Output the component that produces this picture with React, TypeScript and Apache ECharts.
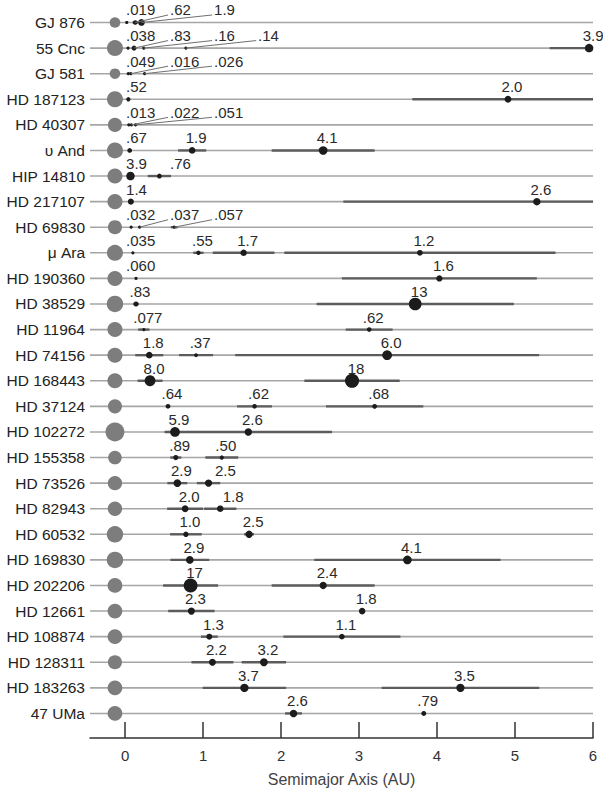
import React, { useEffect, useRef } from "react";
import * as echarts from "echarts";

// ---- data ----
const starNames = [
  "GJ 876", "55 Cnc", "GJ 581", "HD 187123", "HD 40307", "υ And", "HIP 14810",
  "HD 217107", "HD 69830", "μ Ara", "HD 190360", "HD 38529", "HD 11964",
  "HD 74156", "HD 168443", "HD 37124", "HD 102272", "HD 155358", "HD 73526",
  "HD 82943", "HD 60532", "HD 169830", "HD 202206", "HD 12661", "HD 108874",
  "HD 128311", "HD 183263", "47 UMa",
];
// relative stellar size (drawn radius ∝ value)
const starSize = [
  0.66, 1.0, 0.66, 1.0, 0.88, 1.0, 0.94, 0.94, 0.88, 1.0, 0.94, 1.03, 0.94,
  0.94, 0.94, 0.88, 1.18, 0.85, 0.9, 0.9, 1.03, 1.03, 0.92, 0.92, 0.92, 0.88,
  0.92, 0.92,
];

// planets: host row, semimajor axis (AU), mass label (Jupiter masses), eccentricity
const planetStar = [
  0, 0, 0,
  1, 1, 1, 1, 1,
  2, 2, 2,
  3, 3,
  4, 4, 4,
  5, 5, 5,
  6, 6,
  7, 7,
  8, 8, 8,
  9, 9, 9, 9,
  10, 10,
  11, 11,
  12, 12,
  13, 13, 13,
  14, 14,
  15, 15, 15,
  16, 16,
  17, 17,
  18, 18,
  19, 19,
  20, 20,
  21, 21,
  22, 22,
  23, 23,
  24, 24,
  25, 25,
  26, 26,
  27, 27,
];
const planetAxis = [
  0.021, 0.13, 0.21,
  0.038, 0.115, 0.24, 0.78, 5.95,
  0.041, 0.073, 0.25,
  0.042, 4.91,
  0.047, 0.081, 0.134,
  0.059, 0.86, 2.54,
  0.069, 0.44,
  0.074, 5.28,
  0.078, 0.186, 0.63,
  0.1, 0.94, 1.52, 3.78,
  0.14, 4.03,
  0.14, 3.72,
  0.24, 3.13,
  0.31, 0.91, 3.36,
  0.32, 2.91,
  0.55, 1.66, 3.2,
  0.64, 1.58,
  0.65, 1.24,
  0.67, 1.07,
  0.77, 1.22,
  0.78, 1.59,
  0.83, 3.62,
  0.84, 2.54,
  0.85, 3.04,
  1.08, 2.78,
  1.12, 1.78,
  1.53, 4.3,
  2.16, 3.83,
];
const planetMass = [
  ".019", ".62", "1.9",
  ".038", ".83", ".16", ".14", "3.9",
  ".049", ".016", ".026",
  ".52", "2.0",
  ".013", ".022", ".051",
  ".67", "1.9", "4.1",
  "3.9", ".76",
  "1.4", "2.6",
  ".032", ".037", ".057",
  ".035", ".55", "1.7", "1.2",
  ".060", "1.6",
  ".83", "13",
  ".077", ".62",
  "1.8", ".37", "6.0",
  "8.0", "18",
  ".64", ".62", ".68",
  "5.9", "2.6",
  ".89", ".50",
  "2.9", "2.5",
  "2.0", "1.8",
  "1.0", "2.5",
  "2.9", "4.1",
  "17", "2.4",
  "2.3", "1.8",
  "1.3", "1.1",
  "2.2", "3.2",
  "3.7", "3.5",
  "2.6", ".79",
];
const planetEcc = [
  0, 0.26, 0.03,
  0, 0.01, 0.05, 0, 0.085,
  0, 0, 0,
  0, 0.25,
  0, 0, 0,
  0.02, 0.21, 0.26,
  0.14, 0.34,
  0.13, 0.47,
  0, 0, 0.07,
  0, 0.07, 0.26, 0.46,
  0, 0.31,
  0.25, 0.34,
  0.3, 0.096,
  0.58, 0.24, 0.58,
  0.5, 0.21,
  0.05, 0.135, 0.195,
  0.05, 0.68,
  0.11, 0.17,
  0.19, 0.14,
  0.3, 0.17,
  0.26, 0.04,
  0.3, 0.33,
  0.42, 0.26,
  0.35, 0.03,
  0.1, 0.27,
  0.24, 0.16,
  0.35, 0.235,
  0.05, 0,
];
const xTicks = [0, 1, 2, 3, 4, 5, 6];

const X_MIN = -0.45;
const X_MAX = 6;
const STAR_X = -0.13;
const FONT = "'Liberation Sans', Arial, Helvetica, sans-serif";
const LABEL_SIZE = 15;

export default function App() {
  const ref = useRef<HTMLDivElement>(null);

  useEffect(() => {
    if (!ref.current) return;
    const chart = echarts.init(ref.current, undefined, { renderer: "svg" });

    const canvas = document.createElement("canvas");
    const ctx = canvas.getContext("2d")!;
    ctx.font = `${LABEL_SIZE}px ${FONT}`;
    const measure = (t: string) => ctx.measureText(t).width;

    const rowPlanets: number[][] = starNames.map(() => []);
    planetStar.forEach((s, i) => rowPlanets[s].push(i));
    rowPlanets.forEach((arr) => arr.sort((a, b) => planetAxis[a] - planetAxis[b]));

    const renderItem = (params: any, api: any) => {
      const row = api.value(1);
      const y = api.coord([0, row])[1];
      const xl = api.coord([X_MIN, row])[0];
      const xr = api.coord([X_MAX, row])[0];
      const x0 = api.coord([0, row])[0];
      const children: any[] = [];

      // base line
      children.push({
        type: "line",
        shape: { x1: xl, y1: y, x2: xr, y2: y },
        style: { stroke: "#a6a6a6", lineWidth: 1.6 },
      });

      const ids = rowPlanets[row];
      // orbit ranges (periastron to apastron)
      ids.forEach((i) => {
        const a = planetAxis[i];
        const e = planetEcc[i];
        if (e < 0.04) return;
        const p = Math.max(0, a * (1 - e));
        const q = Math.min(X_MAX, a * (1 + e));
        const px = api.coord([p, row])[0];
        const qx = api.coord([q, row])[0];
        children.push({
          type: "line",
          shape: { x1: px, y1: y, x2: qx, y2: y },
          style: { stroke: "#5c5c5c", lineWidth: 2.4 },
        });
      });

      // star
      children.push({
        type: "circle",
        shape: { cx: api.coord([STAR_X, row])[0], cy: y, r: starSize[row] * 8 },
        style: { fill: "#7d7d7d" },
      });

      // planets
      ids.forEach((i) => {
        const m = parseFloat(planetMass[i]);
        const r = Math.max(1.6, 2.7 * Math.cbrt(m));
        children.push({
          type: "circle",
          shape: { cx: api.coord([planetAxis[i], row])[0], cy: y, r },
          style: { fill: "#1c1c1c" },
        });
      });

      // labels
      let prevLeft = -Infinity;
      const ly = y - 12.5;
      ids.forEach((i) => {
        const px = api.coord([planetAxis[i], row])[0];
        const t = planetMass[i];
        const w = measure(t);
        const desired = Math.max(px + 4 - w / 2, x0 + 1);
        let left = desired;
        if (left < prevLeft + 44) left = prevLeft + 44;
        prevLeft = left;
        if (left - desired > 28) {
          children.push({
            type: "line",
            shape: { x1: left - 2, y1: ly + 5, x2: px, y2: y },
            style: { stroke: "#707070", lineWidth: 1 },
          });
        }
        children.push({
          type: "text",
          x: left,
          y: ly,
          style: {
            text: t,
            fill: "#2a2a2a",
            fontSize: LABEL_SIZE,
            fontFamily: FONT,
            align: "left",
            verticalAlign: "middle",
          },
        });
      });

      // star name
      children.push({
        type: "text",
        x: xl - 5,
        y: y,
        style: {
          text: starNames[row],
          fill: "#222",
          fontSize: 15.5,
          fontFamily: FONT,
          align: "right",
          verticalAlign: "middle",
        },
      });

      return { type: "group", children };
    };

    chart.setOption({
      animation: false,
      grid: { left: 90, right: 10, top: 9.7, bottom: 54, outerBoundsMode: "none" },
      xAxis: {
        type: "value",
        min: X_MIN,
        max: X_MAX,
        splitLine: { show: false },
        axisLine: { show: true, onZero: false, lineStyle: { color: "#333", width: 1.5 } },
        axisTick: {
          show: true,
          inside: true,
          length: 16,
          customValues: xTicks,
          lineStyle: { color: "#333", width: 1.5 },
        },
        axisLabel: {
          customValues: xTicks,
          color: "#333",
          fontSize: 15,
          fontFamily: FONT,
          margin: 10,
        },
        name: "Semimajor Axis (AU)",
        nameLocation: "middle",
        nameGap: 33,
        nameTextStyle: { color: "#444", fontSize: 16, fontFamily: FONT },
      },
      yAxis: { type: "value", inverse: true, min: -0.5, max: 27.96, show: false },
      series: [
        {
          type: "custom",
          renderItem,
          clip: false,
          silent: true,
          data: starNames.map((_, i) => [0, i]),
        },
      ],
    });

    return () => chart.dispose();
  }, []);

  return <div ref={ref} style={{ width: 603, height: 792, position: "absolute", left: 0, top: 0 }} />;
}
